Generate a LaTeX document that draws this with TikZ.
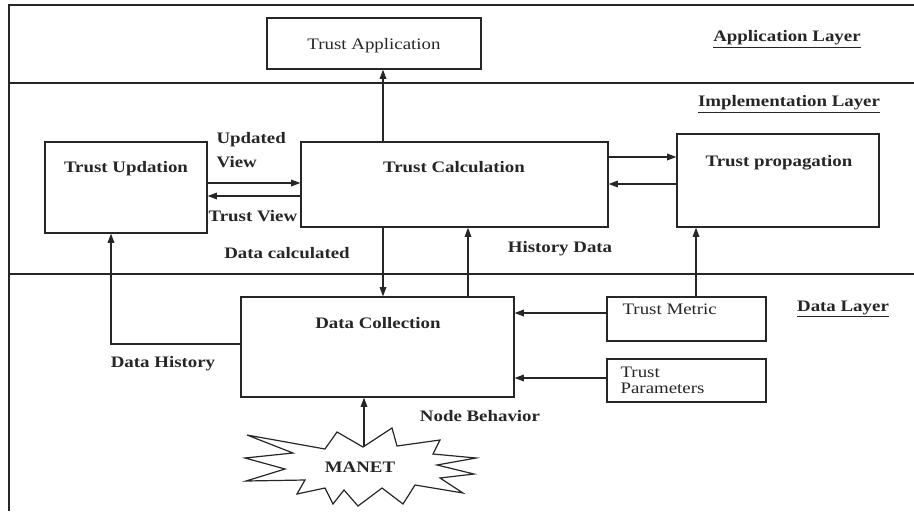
\documentclass[tikz,border=0pt,12pt]{standalone}
\usepackage{fontspec}
\setmainfont[FakeStretch=1.18]{Liberation Serif}
\usetikzlibrary{arrows.meta,fit}

\tikzset{
  box/.style={draw, inner sep=0pt},
  txt/.style={inner sep=0pt, text height=8pt, text depth=0pt},
  btxt/.style={txt, font=\bfseries},
  layer/.style={inner sep=0pt, font=\bfseries},
  arr/.style={-{Triangle[length=7pt,width=5pt]}},
}

\begin{document}
\begin{tikzpicture}[x=0.75pt, y=-0.75pt, line width=0.9pt, color=black!85]
  \useasboundingbox (0,0) rectangle (914,511);
  % frame and layer separators
  \draw (9,511) -- (9,5) -- (914,5);
  \draw (9,83) -- (914,83);
  \draw (9,274) -- (914,274);

  % layer names
  \node[layer] (applayer) at (787,39) {\underline{Application Layer}};
  \node[layer] (implayer) at (789,104) {\underline{Implementation Layer}};
  \node[layer] (datalayer) at (843,309) {\underline{Data Layer}};

  % boxes
  \node[box, fit={(267,18) (481,69)}] (app) {};
  \node[box, fit={(45,142) (207,233)}] (upd) {};
  \node[box, fit={(301,142) (608,227)}] (calc) {};
  \node[box, fit={(677,134) (879,227)}] (prop) {};
  \node[box, fit={(241,297) (514,397)}] (coll) {};
  \node[box, fit={(607,297) (766,341)}] (metric) {};
  \node[box, fit={(607,359) (766,402)}] (param) {};

  % box titles
  \node[txt] (apptxt) at (374,44) {Trust Application};
  \node[btxt] (updtxt) at (126,167) {Trust Updation};
  \node[btxt] (calctxt) at (454,167) {Trust Calculation};
  \node[btxt] (proptxt) at (779,161) {Trust propagation};
  \node[btxt] (colltxt) at (378,323) {Data Collection};
  \node[txt, anchor=west] (metrictxt) at (622,309) {Trust Metric};
  \node[inner sep=0pt, align=left, anchor=base west,
    font=\fontsize{12}{12}\selectfont] (paramtxt) at (620,393) {Trust\\Parameters};

  % MANET
  \draw (247,435) -- (325,449) -- (337,432) -- (363,447) -- (392,428)
    -- (397,446) -- (440,440) -- (433,454) -- (476,458) -- (437,465)
    -- (474,474) -- (440,478) -- (463,493) -- (415,485) -- (403,504)
    -- (382,488) -- (358,506) -- (344,490) -- (333,504) -- (325,488)
    -- (297,494) -- (305,480) -- (246,481) -- (285,469) -- (245,458)
    -- (293,453) -- cycle;
  \coordinate (burst) at (364,447);
  \node[btxt] (manet) at (360,467) {MANET};

  % flow labels
  \node[inner sep=0pt, align=left, anchor=base west, font=\bfseries]
    (updview) at (216,167) {Updated\\[3pt]View};
  \node[btxt, anchor=west] (trustview) at (208,216) {Trust View};
  \node[btxt] (datacalc) at (287,253) {Data calculated};
  \node[btxt] (histdata) at (560,247) {History Data};
  \node[btxt] (datahist) at (163,362) {Data History};
  \node[btxt] (behav) at (480,416) {Node Behavior};

  % connectors
  \draw[arr] (calc.north -| 383,0) -- (app.south -| 383,0);
  \draw[arr] (upd.east |- 0,183) -- (calc.west |- 0,183);
  \draw[arr] (calc.west |- 0,196) -- (upd.east |- 0,196);
  \draw[arr] (calc.east |- 0,157) -- (prop.west |- 0,157);
  \draw[arr] (prop.west |- 0,184) -- (calc.east |- 0,184);
  \draw[arr] (calc.south -| 383,0) -- (coll.north -| 383,0);
  \draw[arr] (coll.north -| 468,0) -- (calc.south -| 468,0);
  \draw[arr] (metric.north -| 696,0) -- (prop.south -| 696,0);
  \draw[arr] (metric.west |- 0,313) -- (coll.east |- 0,313);
  \draw[arr] (param.west |- 0,378) -- (coll.east |- 0,378);
  \draw[arr] (coll.west |- 0,344) -| (upd.south -| 111,0);
  \draw[arr] (burst) -- (coll.south -| burst);
\end{tikzpicture}
\end{document}
